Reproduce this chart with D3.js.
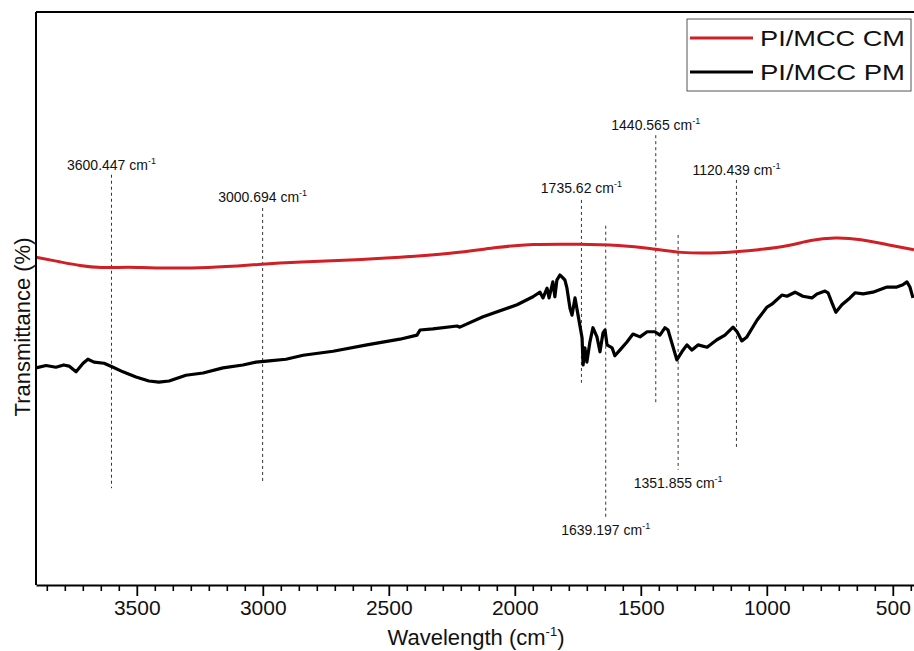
<!DOCTYPE html>
<html>
<head>
<meta charset="utf-8">
<script src="https://cdn.jsdelivr.net/npm/d3@7"></script>
<style>
  body { margin: 0; background: #fff; }
  text { font-family: "Liberation Sans", Arial, sans-serif; }
</style>
</head>
<body>
<div id="canvas"></div>
<script>
// wavenumber (cm-1) and transmittance
const cmWave = [3900, 3805, 3725, 3646, 3527, 3448, 3210, 3012, 2852, 2654, 2456, 2257, 2059, 1940, 1741, 1583, 1464, 1345, 1186, 1027, 908, 829, 729, 630, 511, 416];
const cmT = [57.2, 56.4, 55.7, 55.3, 55.5, 55.3, 55.3, 56.0, 56.4, 56.7, 57.2, 57.8, 59.0, 59.5, 59.5, 59.3, 58.8, 57.9, 57.9, 58.5, 59.2, 60.2, 60.7, 60.4, 59.3, 58.5];

const pmWave = [3900, 3860, 3821, 3790, 3769, 3741, 3713, 3694, 3670, 3630, 3594, 3555, 3503, 3452, 3412, 3372, 3305, 3237, 3158, 3079, 3027, 2975, 2908, 2840, 2721, 2587, 2456, 2388, 2376, 2325, 2229, 2218, 2126, 1991, 1928, 1900, 1888, 1872, 1864, 1849, 1841, 1833, 1821, 1809, 1801, 1793, 1781, 1773, 1761, 1749, 1733, 1729, 1722, 1714, 1702, 1690, 1674, 1662, 1650, 1642, 1634, 1614, 1603, 1583, 1555, 1531, 1503, 1475, 1444, 1424, 1404, 1392, 1357, 1337, 1317, 1297, 1273, 1237, 1198, 1166, 1134, 1118, 1099, 1079, 1039, 999, 980, 940, 920, 888, 857, 821, 801, 769, 757, 741, 726, 702, 670, 650, 618, 579, 523, 484, 460, 444, 432, 420];
const pmT = [37.9, 38.3, 38.0, 38.4, 38.2, 37.2, 38.7, 39.4, 38.9, 38.7, 38.0, 37.2, 36.3, 35.6, 35.4, 35.6, 36.6, 37.0, 37.9, 38.4, 38.9, 39.1, 39.4, 40.1, 40.8, 41.9, 42.9, 43.6, 44.5, 44.7, 45.2, 45.0, 46.8, 48.9, 50.3, 51.1, 50.1, 51.8, 50.1, 52.9, 50.3, 53.2, 54.1, 53.6, 53.2, 51.8, 48.3, 47.1, 50.1, 47.1, 43.1, 38.4, 41.4, 38.9, 42.4, 44.9, 43.3, 40.7, 44.0, 44.5, 41.9, 41.4, 40.0, 41.0, 42.4, 43.8, 43.3, 44.2, 44.2, 43.6, 44.9, 44.5, 39.3, 40.7, 41.9, 41.0, 41.9, 41.5, 42.8, 43.6, 45.0, 44.2, 42.6, 43.3, 46.2, 48.5, 49.0, 50.6, 50.4, 51.1, 50.4, 50.1, 50.8, 51.3, 51.0, 49.2, 47.6, 48.9, 50.1, 51.0, 50.8, 51.1, 52.0, 52.0, 52.4, 52.9, 52.0, 50.1];

// peak markers: wavenumber, dashed line top / bottom, label position (above or below)
const peakLabels = ["3600.447", "3000.694", "1735.62", "1639.197", "1440.565", "1351.855", "1120.439"];
const peakWave = [3600.447, 3000.694, 1735.62, 1639.197, 1440.565, 1351.855, 1120.439];
const peakTop = [71.6, 65.8, 67.2, 62.7, 78.5, 61.1, 70.7];
const peakBottom = [16.9, 18.0, 35.3, 11.7, 31.4, 20.1, 23.6];
const peakLabelY = [72.4, 66.8, 68.4, 8.7, 79.4, 16.9, 71.6];

const xTicks = [3500, 3000, 2500, 2000, 1500, 1000, 500];
const seriesNames = ["PI/MCC CM", "PI/MCC PM"];
const seriesColors = ["#d11f26", "#000000"];

const width = 914;
const height = 651;
const margin = { top: 12, left: 36, bottom: 66, right: -4 };
const iwidth = width - margin.left - margin.right;
const iheight = height - margin.top - margin.bottom;

const svg = d3.select("#canvas").append("svg")
  .attr("width", width)
  .attr("height", height);

const g = svg.append("g")
  .attr("transform", `translate(${margin.left},${margin.top})`);

const x = d3.scaleLinear().domain([3900, 400]).range([0, iwidth]);
const y = d3.scaleLinear().domain([0, 100]).range([iheight, 0]);

// dashed peak lines + labels
peakWave.forEach((w, i) => {
  g.append("line")
    .attr("x1", x(w)).attr("x2", x(w))
    .attr("y1", y(peakTop[i])).attr("y2", y(peakBottom[i]))
    .attr("stroke", "#333")
    .attr("stroke-width", 1)
    .attr("stroke-dasharray", "3,3");

  const t = g.append("text")
    .attr("x", x(w))
    .attr("y", y(peakLabelY[i]))
    .attr("text-anchor", "middle")
    .style("font-size", "14px")
    .attr("fill", "#111");
  t.append("tspan").text(peakLabels[i] + " cm");
  t.append("tspan").attr("dy", -6).style("font-size", "9px").text("-1");
});

// series lines
const cmData = cmWave.map((w, i) => ({ w, t: cmT[i] }));
const pmData = pmWave.map((w, i) => ({ w, t: pmT[i] }));

g.append("path")
  .datum(cmData)
  .attr("fill", "none")
  .attr("stroke", seriesColors[0])
  .attr("stroke-width", 3)
  .attr("d", d3.line().x((d) => x(d.w)).y((d) => y(d.t)).curve(d3.curveBasis));

g.append("path")
  .datum(pmData)
  .attr("fill", "none")
  .attr("stroke", seriesColors[1])
  .attr("stroke-width", 3.2)
  .attr("stroke-linejoin", "round")
  .attr("d", d3.line().x((d) => x(d.w)).y((d) => y(d.t)));

// frame: left and top
g.append("line").attr("x1", 0).attr("x2", 0).attr("y1", 0).attr("y2", iheight)
  .attr("stroke", "#000").attr("stroke-width", 2);
g.append("line").attr("x1", 0).attr("x2", iwidth).attr("y1", 0).attr("y2", 0)
  .attr("stroke", "#000").attr("stroke-width", 2);

// x axis with minor ticks (6 between majors)
const minorTicks = [];
for (let m = 3500 + 500 / 7 * 5; m > 400; m -= 500 / 7) {
  if (Math.abs(Math.round(m) % 500) > 1) minorTicks.push(m);
}

g.append("g")
  .attr("transform", `translate(0, ${iheight})`)
  .call(d3.axisBottom(x).tickValues(minorTicks).tickSize(6).tickFormat(""))
  .call((a) => a.select(".domain").remove())
  .selectAll("line").attr("stroke-width", 1.6);

const xAxis = g.append("g")
  .attr("transform", `translate(0, ${iheight})`)
  .call(d3.axisBottom(x).tickValues(xTicks).tickSize(11).tickSizeOuter(0)
    .tickPadding(4).tickFormat(d3.format("d")));
xAxis.select(".domain").attr("stroke-width", 2);
xAxis.selectAll(".tick line").attr("stroke-width", 1.8);
xAxis.selectAll(".tick text")
  .style("font-size", "21px")
  .style("font-family", "'Liberation Sans', Arial, sans-serif")
  .attr("fill", "#111");

// axis titles
const xt = svg.append("text")
  .attr("x", 476)
  .attr("y", 645)
  .attr("text-anchor", "middle")
  .style("font-size", "22px")
  .attr("fill", "#111");
xt.append("tspan").text("Wavelength (cm");
xt.append("tspan").attr("dy", -9).style("font-size", "13px").text("-1");
xt.append("tspan").attr("dy", 9).text(")");

svg.append("text")
  .attr("transform", "translate(30, 327) rotate(-90)")
  .attr("text-anchor", "middle")
  .style("font-size", "22px")
  .attr("fill", "#111")
  .text("Transmittance (%)");

// legend
const legend = svg.append("g").attr("transform", "translate(687, 19)");
legend.append("rect")
  .attr("width", 224).attr("height", 72)
  .attr("fill", "#fff")
  .attr("stroke", "#555")
  .attr("stroke-width", 1);

seriesNames.forEach((name, i) => {
  const yy = 19 + i * 34;
  legend.append("line")
    .attr("x1", 3).attr("x2", 66)
    .attr("y1", yy).attr("y2", yy)
    .attr("stroke", seriesColors[i])
    .attr("stroke-width", 2.8);
  legend.append("text")
    .attr("x", 73)
    .attr("y", yy + 8)
    .style("font-size", "22px")
    .attr("textLength", 145)
    .attr("lengthAdjust", "spacingAndGlyphs")
    .attr("fill", "#111")
    .text(name);
});
</script>
</body>
</html>
